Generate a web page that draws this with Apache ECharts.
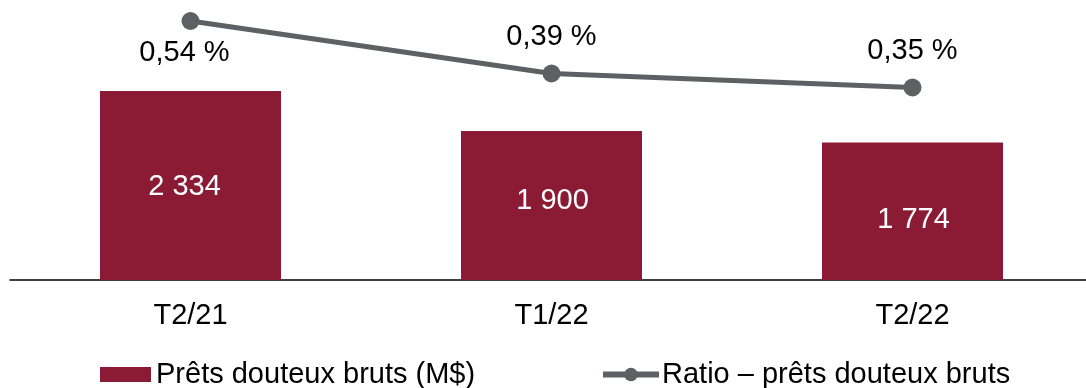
<!DOCTYPE html>
<html>
<head>
<meta charset="utf-8">
<script src="https://cdn.jsdelivr.net/npm/echarts@6/dist/echarts.min.js"></script>
<style>
  html, body { margin: 0; padding: 0; background: #fff; }
  #chart { width: 1086px; height: 388px; }
</style>
</head>
<body>
<div id="chart"></div>
<script>
// données
var categories = ["T2/21", "T1/22", "T2/22"];
var pretsDouteux = [2334, 1900, 1774];
var ratioPrets = [0.54, 0.39, 0.35];
var barName = "Prêts douteux bruts (M$)";
var lineName = "Ratio – prêts douteux bruts";

var font = "'Liberation Sans', Arial, sans-serif";
var fs = 29;
var barColor = "#8b1a34";
var lineColor = "#5e6164";

// petits décalages des étiquettes (comme dans l'original)
var barLabelOffsets = [[-6, 2], [1, -4], [1, 9]];
var lineLabelPos = ["bottom", "top", "top"];
var lineLabelOffsets = [[-6, 1], [0, 1], [0, 1]];

function fmtNombre(v) {
  return String(v).replace(/\B(?=(\d{3})+(?!\d))/g, " ");
}
function fmtPct(v) {
  return v.toFixed(2).replace(".", ",") + " %";
}

var chart = echarts.init(document.getElementById("chart"));

var option = {
  animation: false,
  textStyle: { fontFamily: font },
  grid: { left: 10, width: 1083, top: 0, bottom: 108, containLabel: false, outerBoundsMode: "none" },
  legend: [
    {
      data: [{ name: barName, icon: "rect" }],
      left: 100,
      top: 360,
      padding: 0,
      itemWidth: 51,
      itemHeight: 15,
      itemGap: 0,
      textStyle: { fontSize: fs, color: "#000", fontFamily: font }
    },
    {
      data: [lineName],
      left: 600,
      top: 360,
      padding: 0,
      itemWidth: 56,
      itemHeight: 17,
      itemGap: 0,
      lineStyle: { width: 6, color: lineColor },
      itemStyle: { color: lineColor },
      textStyle: { fontSize: fs, color: "#000", fontFamily: font, padding: [0, 0, 0, -2] }
    }
  ],
  xAxis: {
    type: "category",
    data: categories,
    axisLine: { show: true, onZero: false, lineStyle: { color: "#000", width: 1.5 } },
    axisTick: { show: false },
    axisLabel: { color: "#000", fontSize: fs, fontFamily: font, margin: 21 }
  },
  yAxis: [
    { type: "value", min: 283, max: 3321, show: false, splitLine: { show: false } },
    { type: "value", min: -0.2, max: 0.6, show: false, splitLine: { show: false } }
  ],
  series: [
    {
      name: barName,
      type: "bar",
      barWidth: 181,
      itemStyle: { color: barColor },
      data: pretsDouteux.map(function (v, i) {
        return {
          value: v,
          label: { offset: barLabelOffsets[i] }
        };
      }),
      label: {
        show: true,
        position: "inside",
        color: "#fff",
        fontSize: fs,
        fontFamily: font,
        formatter: function (p) { return fmtNombre(p.value); }
      }
    },
    {
      name: lineName,
      type: "line",
      yAxisIndex: 1,
      symbol: "circle",
      symbolSize: 18,
      itemStyle: { color: lineColor },
      lineStyle: { color: lineColor, width: 5 },
      data: ratioPrets.map(function (v, i) {
        return {
          value: v,
          label: {
            position: lineLabelPos[i],
            distance: lineLabelPos[i] === "top" ? 14 : 7,
            offset: lineLabelOffsets[i]
          }
        };
      }),
      label: {
        show: true,
        color: "#000",
        fontSize: fs,
        fontFamily: font,
        formatter: function (p) { return fmtPct(p.value); }
      }
    }
  ]
};

chart.setOption(option);
window.addEventListener("resize", function () {
  chart.resize();
});
</script>
</body>
</html>
